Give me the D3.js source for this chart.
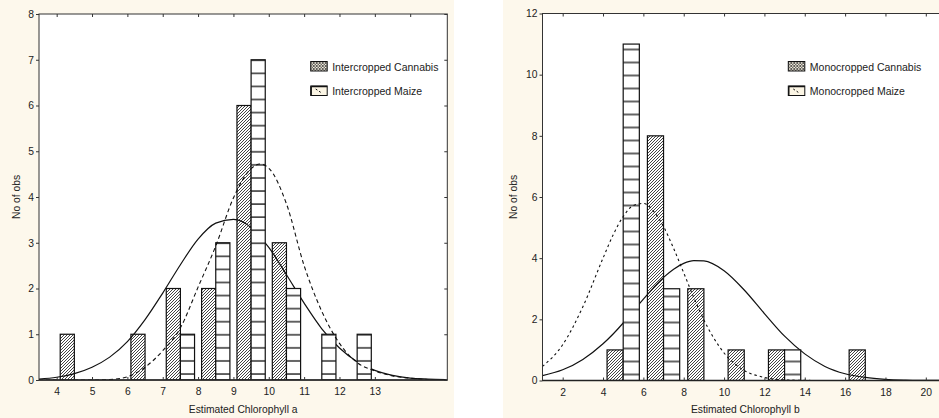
<!DOCTYPE html>
<html>
<head>
<meta charset="utf-8">
<script src="https://cdn.jsdelivr.net/npm/d3@7"></script>
<style>
  body { margin: 0; background: #ffffff; }
  text { font-family: "Liberation Sans", Arial, sans-serif; fill: #222; }
</style>
</head>
<body>
<div id="chart"></div>
<script>
// ---- data ----
// panel a : bins of width 1, lower edges
var binsA = [4, 5, 6, 7, 8, 9, 10, 11, 12, 13];
var cannabisA = [1, 0, 1, 2, 2, 6, 3, 0, 0, 0];
var maizeA = [0, 0, 0, 1, 3, 7, 2, 1, 1, 0];
var xTicksA = [4, 5, 6, 7, 8, 9, 10, 11, 12, 13];
var yTicksA = [0, 1, 2, 3, 4, 5, 6, 7, 8];
// fitted curves, read at these x positions
var fitXA = [3.5, 4, 4.5, 5, 5.5, 6, 6.5, 7, 7.5, 8, 8.5, 9, 9.5, 9.75, 10, 10.5, 11, 11.5, 12, 12.5, 13, 13.5, 14, 14.5, 15];
var fitCannabisA = [0.02, 0.06, 0.14, 0.28, 0.5, 0.84, 1.32, 1.9, 2.52, 3.08, 3.43, 3.51, 3.33, 3.13, 2.9, 2.3, 1.68, 1.12, 0.7, 0.4, 0.21, 0.1, 0.04, 0.02, 0.01];
var fitMaizeA = [0, 0, 0, 0, 0.01, 0.07, 0.28, 0.64, 1.14, 2.03, 2.93, 3.98, 4.62, 4.72, 4.63, 3.85, 2.5, 1.5, 0.8, 0.38, 0.2, 0.09, 0.04, 0.01, 0];

// panel b : bins of width 2, lower edges
var binsB = [2, 4, 6, 8, 10, 12, 14, 16, 18];
var cannabisB = [0, 1, 8, 3, 1, 1, 0, 1, 0];
var maizeB = [0, 11, 3, 0, 0, 1, 0, 0, 0];
var xTicksB = [2, 4, 6, 8, 10, 12, 14, 16, 18, 20];
var yTicksB = [0, 2, 4, 6, 8, 10, 12];
var fitXB = [1, 2, 3, 4, 4.5, 5, 5.5, 6, 6.5, 7, 7.5, 8, 8.5, 9, 10, 11, 12, 13, 14, 15, 16, 17, 18, 19, 20, 21];
var fitCannabisB = [0.16, 0.35, 0.69, 1.2, 1.52, 1.88, 2.27, 2.66, 3.03, 3.37, 3.64, 3.83, 3.92, 3.91, 3.59, 2.96, 2.19, 1.45, 0.87, 0.46, 0.22, 0.1, 0.04, 0.015, 0.005, 0];
var fitMaizeB = [0.46, 1.17, 2.41, 4.0, 4.76, 5.36, 5.72, 5.79, 5.54, 5.03, 4.32, 3.52, 2.71, 1.98, 0.9, 0.33, 0.1, 0.02, 0.005, 0, 0, 0, 0, 0, 0, 0];

var W = 939, H = 418;
var cream = "#fdf8ec";

var svg = d3.select("#chart").append("svg")
  .attr("width", W)
  .attr("height", H);

var defs = svg.append("defs");

// diagonal hatch for the cannabis bars
var hatch = defs.append("pattern")
  .attr("id", "hatch")
  .attr("patternUnits", "userSpaceOnUse")
  .attr("width", 3)
  .attr("height", 3);
hatch.append("rect").attr("width", 3).attr("height", 3).attr("fill", "#fff");
hatch.append("path")
  .attr("d", "M-1,1 l2,-2 M0,3 l3,-3 M2,4 l2,-2")
  .attr("stroke", "#222")
  .attr("stroke-width", 0.85);

// cross hatch for the legend swatch
var cross = defs.append("pattern")
  .attr("id", "cross")
  .attr("patternUnits", "userSpaceOnUse")
  .attr("width", 3)
  .attr("height", 3);
cross.append("rect").attr("width", 3).attr("height", 3).attr("fill", "#f4efe0");
cross.append("path")
  .attr("d", "M-1,1 l2,-2 M0,3 l3,-3 M2,4 l2,-2 M-1,2 l2,2 M0,0 l3,3 M2,-1 l2,2")
  .attr("stroke", "#222")
  .attr("stroke-width", 0.7);

function drawPanel(cfg){
  // cream background of the whole panel
  svg.append("rect")
    .attr("x", cfg.bgX0)
    .attr("y", 0)
    .attr("width", cfg.bgX1 - cfg.bgX0)
    .attr("height", H)
    .attr("fill", cream);

  var x = d3.scaleLinear().domain(cfg.xDomain).range([cfg.left, cfg.right]);
  var y = d3.scaleLinear().domain(cfg.yDomain).range([cfg.bottom, cfg.top]);

  // horizontal rungs for the maize bars, anchored on the baseline
  var rung = defs.append("pattern")
    .attr("id", "rung" + cfg.id)
    .attr("patternUnits", "userSpaceOnUse")
    .attr("x", 0)
    .attr("y", cfg.bottom - 7)
    .attr("width", 10)
    .attr("height", cfg.rungStep);
  rung.append("rect").attr("width", 10).attr("height", cfg.rungStep).attr("fill", "#fff");
  rung.append("line")
    .attr("x1", 0).attr("x2", 10)
    .attr("y1", 1).attr("y2", 1)
    .attr("stroke", "#111")
    .attr("stroke-width", 1.3);

  svg.append("clipPath").attr("id", "clip" + cfg.id)
    .append("rect")
    .attr("x", cfg.left).attr("y", cfg.top)
    .attr("width", cfg.right - cfg.left)
    .attr("height", cfg.bottom - cfg.top);

  var plot = svg.append("g");

  plot.append("rect")
    .attr("x", cfg.left).attr("y", cfg.top)
    .attr("width", cfg.right - cfg.left)
    .attr("height", cfg.bottom - cfg.top)
    .attr("fill", "#fff");

  var inner = plot.append("g").attr("clip-path", "url(#clip" + cfg.id + ")");
  var w = cfg.binWidth;

  var line = d3.line()
    .x(function(d){ return x(d[0]); })
    .y(function(d){ return y(d[1]); })
    .curve(d3.curveMonotoneX);

  // cannabis histogram
  inner.selectAll(".cannabis")
    .data(cfg.bins.map(function(b, i){ return [b, cfg.cannabis[i]]; }).filter(function(d){ return d[1] > 0; }))
    .enter()
    .append("rect")
    .attr("class", "cannabis")
    .attr("x", function(d){ return x(d[0] + 0.1 * w); })
    .attr("width", function(d){ return x(d[0] + 0.5 * w) - x(d[0] + 0.1 * w); })
    .attr("y", function(d){ return y(d[1]); })
    .attr("height", function(d){ return y(0) - y(d[1]); })
    .attr("fill", "url(#hatch)")
    .attr("stroke", "#111")
    .attr("stroke-width", 1.2);

  // cannabis fit (solid)
  inner.append("path")
    .attr("d", line(cfg.fitX.map(function(v, i){ return [v, cfg.fitCannabis[i]]; })))
    .attr("fill", "none")
    .attr("stroke", "#111")
    .attr("stroke-width", 1.2);

  // maize histogram
  inner.selectAll(".maize")
    .data(cfg.bins.map(function(b, i){ return [b, cfg.maize[i]]; }).filter(function(d){ return d[1] > 0; }))
    .enter()
    .append("rect")
    .attr("class", "maize")
    .attr("x", function(d){ return x(d[0] + 0.5 * w); })
    .attr("width", function(d){ return x(d[0] + 0.9 * w) - x(d[0] + 0.5 * w); })
    .attr("y", function(d){ return y(d[1]); })
    .attr("height", function(d){ return y(0) - y(d[1]); })
    .attr("fill", "url(#rung" + cfg.id + ")")
    .attr("stroke", "#111")
    .attr("stroke-width", 1.2);

  // maize fit (dashed)
  inner.append("path")
    .attr("d", line(cfg.fitX.map(function(v, i){ return [v, cfg.fitMaize[i]]; })))
    .attr("fill", "none")
    .attr("stroke", "#111")
    .attr("stroke-width", 1.1)
    .attr("stroke-dasharray", cfg.dash);

  // frame
  plot.append("rect")
    .attr("x", cfg.left).attr("y", cfg.top)
    .attr("width", cfg.right - cfg.left)
    .attr("height", cfg.bottom - cfg.top)
    .attr("fill", "none")
    .attr("stroke", "#333")
    .attr("stroke-width", 1);
  plot.append("line")
    .attr("x1", cfg.left).attr("x2", cfg.right)
    .attr("y1", cfg.bottom).attr("y2", cfg.bottom)
    .attr("stroke", "#222")
    .attr("stroke-width", 1.6);

  // axes
  var bottomAxis = svg.append("g")
    .attr("transform", "translate(0," + cfg.bottom + ")")
    .call(d3.axisBottom(x).tickValues(cfg.xTicks).tickSize(-3).tickPadding(8).tickFormat(d3.format("d")));
  var topAxis = svg.append("g")
    .attr("transform", "translate(0," + cfg.top + ")")
    .call(d3.axisTop(x).tickValues(cfg.xTickMarks).tickSize(-3).tickFormat(""));
  var leftAxis = svg.append("g")
    .attr("transform", "translate(" + cfg.left + ",0)")
    .call(d3.axisLeft(y).tickValues(cfg.yTicks).tickSize(3).tickPadding(2).tickFormat(d3.format("d")));
  var rightAxis = svg.append("g")
    .attr("transform", "translate(" + cfg.right + ",0)")
    .call(d3.axisRight(y).tickValues(cfg.yTicks).tickSize(-3).tickFormat(""));

  [bottomAxis, topAxis, leftAxis, rightAxis].forEach(function(a){
    a.select(".domain").remove();
    a.selectAll("line").attr("stroke", "#333");
    a.selectAll("text")
      .style("font-family", "'Liberation Sans', Arial, sans-serif")
      .style("font-size", "10.3px")
      .attr("fill", "#222");
  });

  // axis titles
  svg.append("text")
    .attr("x", (cfg.left + cfg.right) / 2)
    .attr("y", 413)
    .attr("text-anchor", "middle")
    .style("font-size", "10.3px")
    .text(cfg.xTitle);

  svg.append("text")
    .attr("transform", "translate(" + cfg.yTitleX + "," + (cfg.top + cfg.bottom) / 2 + ") rotate(-90)")
    .attr("text-anchor", "middle")
    .style("font-size", "10.3px")
    .text("No of obs");

  // legend
  var lg = svg.append("g").attr("transform", "translate(" + cfg.legendX + ",0)");
  lg.append("rect")
    .attr("x", 0).attr("y", 61.5)
    .attr("width", 16.5).attr("height", 9.5)
    .attr("fill", "url(#cross)")
    .attr("stroke", "#111")
    .attr("stroke-width", 1);
  lg.append("rect")
    .attr("x", 0).attr("y", 86)
    .attr("width", 16.5).attr("height", 9.5)
    .attr("fill", "#fbf5e4")
    .attr("stroke", "#111")
    .attr("stroke-width", 1);
  lg.append("path")
    .attr("d", "M0.5,86.5 h16 M0.5,86.5 v9")
    .attr("stroke", "#111")
    .attr("stroke-width", 1.4)
    .attr("fill", "none");
  lg.append("line")
    .attr("x1", 5).attr("y1", 89)
    .attr("x2", 11).attr("y2", 93)
    .attr("stroke", "#111")
    .attr("stroke-width", 1)
    .attr("stroke-dasharray", "2,2");
  lg.append("text")
    .attr("x", 21.5).attr("y", 70.5)
    .style("font-size", "10.5px")
    .text(cfg.legend[0]);
  lg.append("text")
    .attr("x", 21.5).attr("y", 94.5)
    .style("font-size", "10.5px")
    .text(cfg.legend[1]);
}

drawPanel({
  id: "a",
  bgX0: 0, bgX1: 454,
  left: 39, right: 447.3, top: 14, bottom: 380,
  xDomain: [3.5, 15.05], yDomain: [0, 8],
  binWidth: 1,
  bins: binsA, cannabis: cannabisA, maize: maizeA,
  fitX: fitXA, fitCannabis: fitCannabisA, fitMaize: fitMaizeA,
  xTicks: xTicksA, xTickMarks: xTicksA.concat([14]), yTicks: yTicksA,
  rungStep: 13.07,
  dash: "4,3",
  xTitle: "Estimated Chlorophyll a",
  yTitleX: 19.5,
  legendX: 310.7,
  legend: ["Intercropped Cannabis", "Intercropped Maize"]
});

drawPanel({
  id: "b",
  bgX0: 503, bgX1: W,
  left: 542.5, right: 948, top: 13.5, bottom: 380.5,
  xDomain: [1, 21.1], yDomain: [0, 12],
  binWidth: 2,
  bins: binsB, cannabis: cannabisB, maize: maizeB,
  fitX: fitXB, fitCannabis: fitCannabisB, fitMaize: fitMaizeB,
  xTicks: xTicksB, xTickMarks: xTicksB, yTicks: yTicksB,
  rungStep: 13,
  dash: "2.5,3",
  xTitle: "Estimated Chlorophyll b",
  yTitleX: 516.5,
  legendX: 788.3,
  legend: ["Monocropped Cannabis", "Monocropped Maize"]
});
</script>
</body>
</html>
